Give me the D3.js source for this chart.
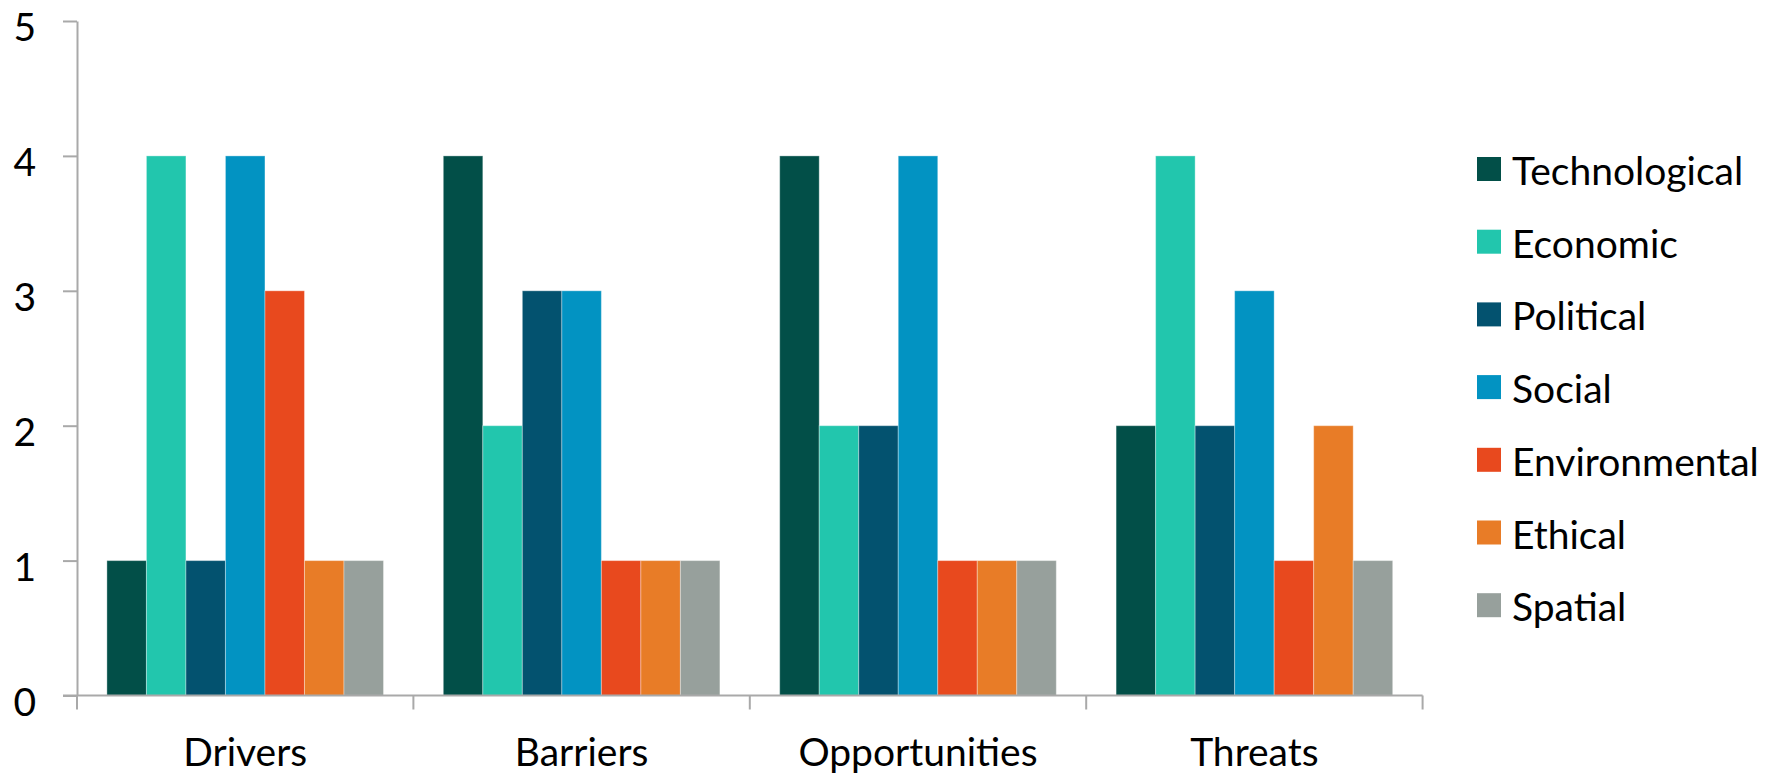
<!DOCTYPE html>
<html>
<head>
<meta charset="utf-8">
<script src="https://cdn.jsdelivr.net/npm/d3@7"></script>
<style>
  html, body { margin: 0; padding: 0; background: #fff; }
  svg { display: block; }
  text { font-family: Lato, "Open Sans", sans-serif; fill: #000; }
</style>
</head>
<body>
<svg id="chart" width="1777" height="773"></svg>
<script>
// Categories along the x axis
const categories = ["Drivers", "Barriers", "Opportunities", "Threats"];
// Series (one bar per series inside each category)
const seriesNames = ["Technological", "Economic", "Political", "Social", "Environmental", "Ethical", "Spatial"];
const seriesColors = ["#024F48", "#22C6AD", "#03526F", "#0293C2", "#E8491E", "#E87C27", "#97A09C"];
// Values per series, in category order
const technological = [1, 4, 4, 2];
const economic      = [4, 2, 2, 4];
const political     = [1, 3, 2, 2];
const social        = [4, 3, 4, 3];
const environmental = [3, 1, 1, 1];
const ethical       = [1, 1, 1, 2];
const spatial       = [1, 1, 1, 1];
const seriesValues = [technological, economic, political, social, environmental, ethical, spatial];
const yTicks = [0, 1, 2, 3, 4, 5];

const svg = d3.select("#chart");
const plot = { left: 77, right: 1422.6, top: 21, bottom: 695.5 };
const fontSize = 39;

const x0 = d3.scaleBand()
  .domain(categories)
  .range([plot.left, plot.right])
  .paddingInner(0)
  .paddingOuter(0);

const innerPad = 29.9;
const x1 = d3.scaleBand()
  .domain(seriesNames)
  .range([innerPad, x0.bandwidth() - innerPad])
  .padding(0);

const y = d3.scaleLinear().domain([0, 5]).range([plot.bottom, plot.top]);

// Bars
const groups = svg.append("g")
  .selectAll("g")
  .data(categories)
  .join("g")
  .attr("transform", d => `translate(${x0(d)},0)`);

groups.selectAll("rect")
  .data((c, ci) => seriesNames.map((s, si) => ({ s, si, v: seriesValues[si][ci] })))
  .join("rect")
  .attr("x", d => x1(d.s))
  .attr("y", d => y(d.v))
  .attr("width", x1.bandwidth())
  .attr("height", d => y(0) - y(d.v))
  .attr("fill", d => seriesColors[d.si])
  .attr("stroke", "rgba(255,255,255,0.35)")
  .attr("stroke-width", 1);

const axisColor = "#A9A9A9";

// Y axis
const yAxis = svg.append("g")
  .attr("transform", `translate(${plot.left},0)`)
  .call(d3.axisLeft(y).tickValues(yTicks).tickFormat(d3.format("d")).tickSize(14).tickSizeOuter(0).tickPadding(27));
yAxis.select(".domain").attr("stroke", axisColor).attr("stroke-width", 2);
yAxis.selectAll(".tick line").attr("stroke", axisColor).attr("stroke-width", 2);
yAxis.selectAll(".tick text")
  .attr("font-size", fontSize)
  .attr("dy", "0.5em")
  .style("font-family", "Lato, sans-serif");

// X axis with ticks at category boundaries
const xAxisG = svg.append("g").attr("transform", `translate(0,${plot.bottom})`);
xAxisG.append("line")
  .attr("x1", plot.left - 14).attr("x2", plot.right)
  .attr("stroke", axisColor).attr("stroke-width", 2);
const boundaries = categories.map(c => x0(c)).concat([x0(categories[categories.length - 1]) + x0.bandwidth()]);
xAxisG.selectAll("line.bound")
  .data(boundaries)
  .join("line")
  .attr("class", "bound")
  .attr("x1", d => d).attr("x2", d => d)
  .attr("y1", 0).attr("y2", 14)
  .attr("stroke", axisColor).attr("stroke-width", 2);
xAxisG.selectAll("text")
  .data(categories)
  .join("text")
  .attr("x", d => x0(d) + x0.bandwidth() / 2)
  .attr("y", 70)
  .attr("text-anchor", "middle")
  .attr("font-size", fontSize)
  .text(d => d);

// Legend
const legend = svg.append("g").attr("transform", "translate(1477,157)");
const rowH = 72.7;
const items = legend.selectAll("g")
  .data(seriesNames)
  .join("g")
  .attr("transform", (d, i) => `translate(0,${i * rowH})`);
items.append("rect")
  .attr("width", 24).attr("height", 24)
  .attr("fill", (d, i) => seriesColors[i]);
items.append("text")
  .attr("x", 35)
  .attr("y", 28)
  .attr("font-size", fontSize)
  .text(d => d);
</script>
</body>
</html>
